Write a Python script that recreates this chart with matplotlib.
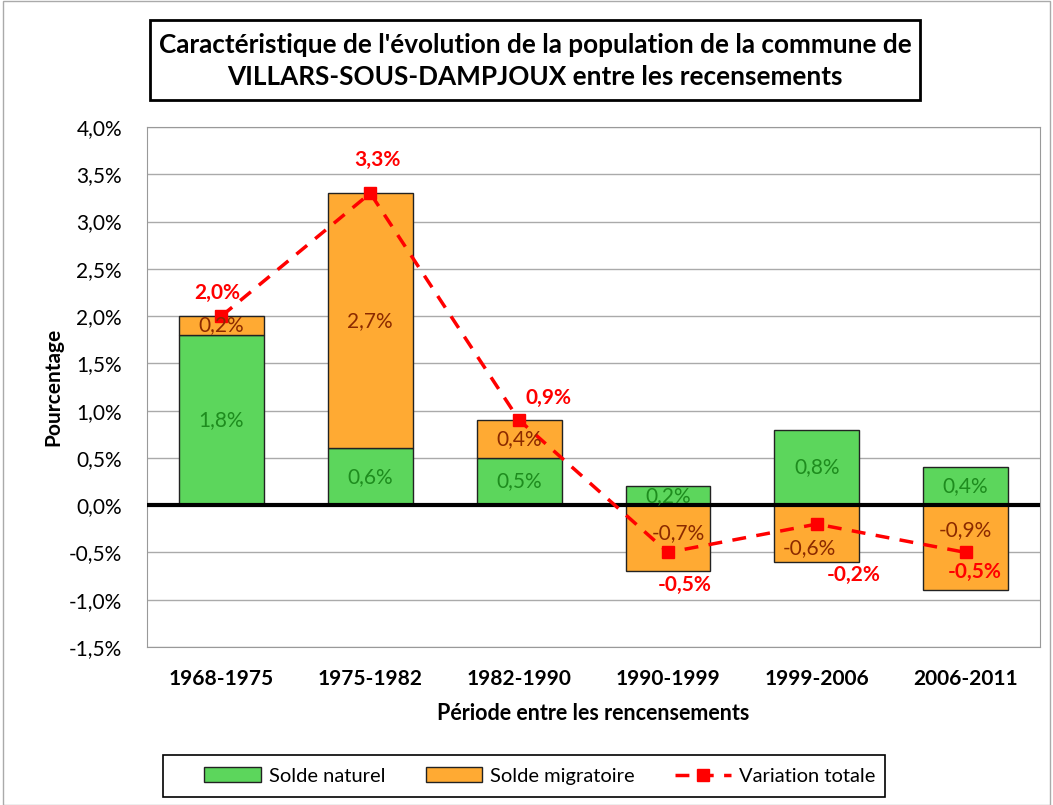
import numpy as np
import matplotlib
matplotlib.use('Agg')
import matplotlib.pyplot as plt
from matplotlib.patches import Rectangle, Patch
from matplotlib.lines import Line2D
from matplotlib.ticker import MultipleLocator, FuncFormatter

plt.rcParams['font.family'] = ['Lato', 'DejaVu Sans']

periodes = ['1968-1975', '1975-1982', '1982-1990', '1990-1999', '1999-2006', '2006-2011']
solde_naturel = [1.8, 0.6, 0.5, 0.2, 0.8, 0.4]
solde_migratoire = [0.2, 2.7, 0.4, -0.7, -0.6, -0.9]
variation_totale = [2.0, 3.3, 0.9, -0.5, -0.2, -0.5]

vert = '#5CD65C'
orange = '#FFAA33'
rouge = '#FF0000'

def fr(v):
    return ('%.1f%%' % v).replace('.', ',')

fig = plt.figure(figsize=(10.53, 8.05), dpi=100)
ax = fig.add_axes([0.1396, 0.1963, 0.8481, 0.6459])

x = np.arange(len(periodes))
w = 0.57
# bas des barres migratoires: au dessus du naturel si positif, sinon depuis 0
bas_mig = [n if m >= 0 else 0 for n, m in zip(solde_naturel, solde_migratoire)]

ax.bar(x, solde_naturel, w, color=vert, edgecolor='#222222', linewidth=1, zorder=3)
ax.bar(x, solde_migratoire, w, bottom=bas_mig, color=orange, edgecolor='#222222', linewidth=1, zorder=3)
ax.plot(x, variation_totale, color=rouge, linestyle=(0, (4, 3)), linewidth=2.5,
        marker='s', markersize=8, zorder=5)

# etiquettes (decalages a la main comme dans le graphique d'origine)
mig_decal = [(0, 0), (0, 0), (0, 0), (0.07, 0.05), (-0.05, -0.15), (0, 0.19)]
for i in range(len(x)):
    n = solde_naturel[i]
    m = solde_migratoire[i]
    ax.text(x[i], n / 2, fr(n), ha='center', va='center', fontsize=15, color='#1E8C1E', zorder=6)
    ym = bas_mig[i] + m / 2
    ax.text(x[i] + mig_decal[i][0], ym + mig_decal[i][1], fr(m), ha='center', va='center',
            fontsize=15, color='#8B2A00', zorder=6)

decal = [(-0.03, 0.24), (0.05, 0.35), (0.2, 0.23), (0.11, -0.34), (0.25, -0.54), (0.06, -0.21)]
for i, t in enumerate(variation_totale):
    ax.text(x[i] + decal[i][0], t + decal[i][1], fr(t), ha='center', va='center',
            fontsize=15, color=rouge, fontweight='bold', zorder=6)

ax.set_xlim(-0.5, len(x) - 0.5)
ax.set_ylim(-1.5, 4.0)
ax.yaxis.set_major_locator(MultipleLocator(0.5))
ax.yaxis.set_major_formatter(FuncFormatter(lambda v, p: fr(v)))
ax.grid(axis='y', color='#AAAAAA', linewidth=1, zorder=0)
ax.axhline(0, color='black', linewidth=3, zorder=4)
ax.set_xticks(x)
ax.set_xticklabels(periodes, fontsize=15, fontweight='bold')
ax.tick_params(axis='x', length=0, pad=16)
ax.tick_params(axis='y', labelsize=15, length=0, pad=18)
for s in ax.spines.values():
    s.set_color('#999999')
ax.set_ylabel('Pourcentage', fontsize=15, fontweight='bold', labelpad=4)
ax.set_xlabel('Période entre les rencensements', fontsize=15.5, fontweight='bold', labelpad=10)

# titre dans un cadre
fig.patches.append(Rectangle((150 / 1053, 1 - 100 / 805), 770 / 1053, 80 / 805,
                             transform=fig.transFigure, fill=False, edgecolor='black', linewidth=2))
fig.text(535 / 1053, 1 - 61 / 805,
         "Caractéristique de l'évolution de la population de la commune de\nVILLARS-SOUS-DAMPJOUX entre les recensements",
         ha='center', va='center', fontsize=18.8, fontweight='bold', linespacing=1.4)

# legende (cadre dessine a part)
fig.patches.append(Rectangle((163 / 1053, 1 - 797 / 805), 722 / 1053, 42 / 805,
                             transform=fig.transFigure, fill=False, edgecolor='black', linewidth=1.2))
poignees = [Patch(facecolor=vert, edgecolor='#222222', label='Solde naturel'),
            Patch(facecolor=orange, edgecolor='#222222', label='Solde migratoire'),
            Line2D([0], [0], color=rouge, linestyle=(0, (4, 3)), linewidth=2.5, marker='s',
                   markersize=8, label='Variation totale')]
leg = fig.legend(handles=poignees, loc='center', bbox_to_anchor=(540 / 1053, 1 - 776 / 805),
                 ncol=3, fontsize=14.5, frameon=False,
                 handlelength=2.8, handletextpad=0.4, columnspacing=2.0)

# cadre exterieur
fig.patches.append(Rectangle((0.003, 0.0), 0.994, 0.999, transform=fig.transFigure,
                             fill=False, edgecolor='#AAAAAA', linewidth=1))

fig.savefig('out.png', dpi=100)
